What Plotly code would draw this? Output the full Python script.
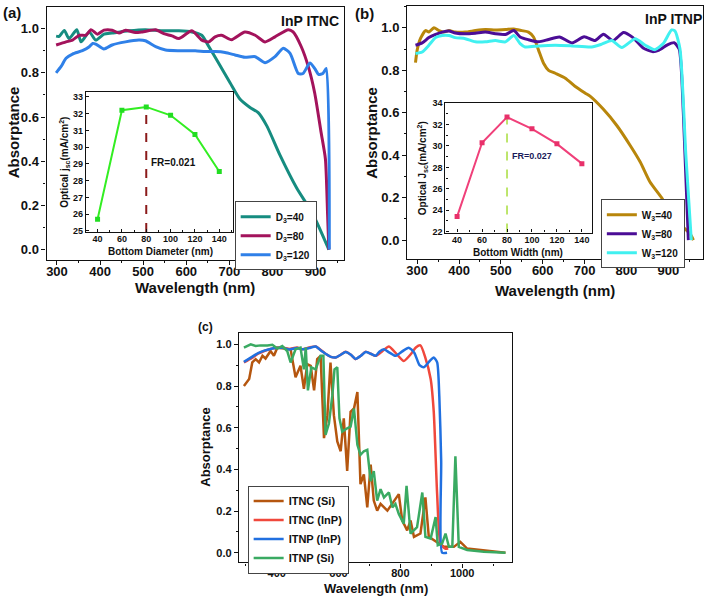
import plotly.graph_objects as go

W, H = 709, 603

# ---------------- Panel (a): InP ITNC ----------------
wl_a_d40 = [298,305,317,328,346,356,375,390,409,428,467,505,544,583,613,636,652,675,702,725,748,767,787,817,856,894,931]
abs_a_d40 = [0.966,0.965,0.992,0.955,0.995,0.94,0.985,0.948,0.975,0.98,0.99,0.995,0.99,0.99,0.985,0.97,0.92,0.844,0.754,0.68,0.643,0.62,0.56,0.43,0.28,0.16,0.0]
wl_a_d80 = [298,321,336,352,367,379,394,409,428,444,459,482,498,529,548,567,583,613,636,652,667,682,705,736,760,783,806,837,848,867,883,898,913,923,928,931]
abs_a_d80 = [0.926,0.94,0.948,0.97,0.97,0.995,0.975,0.993,0.993,0.98,0.993,0.982,0.985,0.995,0.977,0.967,0.955,0.99,0.948,0.94,0.963,0.97,0.95,0.985,0.97,0.94,0.963,0.995,0.985,0.918,0.83,0.71,0.53,0.41,0.16,0.0]
wl_a_d120 = [298,310,321,336,359,375,383,390,409,428,459,490,505,529,552,583,621,644,667,690,713,736,760,783,806,825,841,860,871,887,898,907,917,925,932]
abs_a_d120 = [0.80,0.83,0.866,0.885,0.90,0.918,0.933,0.93,0.908,0.926,0.94,0.948,0.945,0.918,0.903,0.90,0.90,0.896,0.896,0.892,0.881,0.87,0.873,0.846,0.873,0.911,0.888,0.797,0.797,0.844,0.82,0.793,0.797,0.82,0.0]

# inset (a)
bottom_diameter = [40, 60, 80, 100, 120, 140]
jsc_a = [25.7, 32.2, 32.4, 31.9, 30.75, 28.55]

# ---------------- Panel (b): InP ITNP ----------------
wl_b_w40 = [296,300,308,320,328,340,352,364,376,391,415,439,463,487,511,531,550,566,578,590,602,614,630,654,677,701,713,745,777,809,833,856,884,920,952,960]
abs_b_w40 = [0.836,0.895,0.95,0.987,0.98,1.0,0.987,0.98,0.987,0.98,0.98,0.987,0.992,0.99,0.992,0.995,0.987,0.98,0.957,0.895,0.833,0.80,0.786,0.763,0.725,0.693,0.678,0.616,0.54,0.446,0.368,0.275,0.20,0.09,0.03,0.0]
wl_b_w80 = [296,312,328,344,360,376,391,415,439,463,487,511,531,546,566,590,614,640,670,699,725,745,768,793,815,840,862,878,898,914,926,936,948]
abs_b_w80 = [0.918,0.929,0.954,0.969,0.98,0.985,0.976,0.972,0.975,0.98,0.972,0.969,0.987,0.957,0.944,0.934,0.945,0.957,0.929,0.958,0.94,0.97,0.94,0.978,0.955,0.905,0.888,0.895,0.92,0.93,0.9,0.6,0.0]
wl_b_w120 = [296,312,328,344,360,376,391,415,439,463,487,511,531,546,558,590,630,670,717,741,765,789,821,845,868,888,908,916,928,942,955]
abs_b_w120 = [0.879,0.886,0.918,0.954,0.964,0.964,0.954,0.949,0.934,0.934,0.94,0.934,0.964,0.926,0.91,0.915,0.918,0.915,0.91,0.923,0.94,0.907,0.949,0.918,0.897,0.926,0.99,0.985,0.9,0.4,0.0]

# inset (b)
bottom_width = [40, 60, 80, 100, 120, 140]
jsc_b = [23.4, 30.3, 32.7, 31.6, 30.2, 28.35]

# ---------------- Panel (c) ----------------
wl_c_itnc_si = [294,311,321,332,343,354,364,380,391,402,424,445,461,477,488,499,510,521,531,542,553,564,574,585,596,607,617,628,639,650,661,671,682,693,704,714,725,736,758,779,795,806,822,833,844,865,881,892,908,924,941,973,994,1016,1059,1140]
abs_c_itnc_si = [0.80,0.834,0.913,0.929,0.913,0.945,0.932,0.968,0.945,0.984,0.98,0.976,0.842,0.897,0.787,0.905,0.897,0.779,0.929,0.945,0.55,0.66,0.913,0.66,0.534,0.487,0.645,0.392,0.676,0.692,0.771,0.329,0.376,0.218,0.423,0.25,0.202,0.234,0.202,0.25,0.281,0.155,0.107,0.155,0.076,0.092,0.265,0.076,0.06,0.044,0.028,0.028,0.052,0.02,0.013,0.0]
wl_c_itnc_inp = [294,320,340,360,380,400,420,440,466,483,505,526,545,558,575,591,607,623,640,655,672,688,704,720,740,763,790,811,835,850,865,880,898,908,919,930,945,955]
abs_c_itnc_inp = [0.913,0.935,0.955,0.968,0.978,0.984,0.985,0.978,0.985,0.976,0.985,0.99,0.97,0.955,0.94,0.937,0.95,0.965,0.95,0.929,0.945,0.965,0.955,0.945,0.965,0.99,0.95,0.92,0.955,0.985,0.995,0.94,0.834,0.676,0.28,0.044,0.02,0.02]
wl_c_itnp_inp = [294,320,340,360,380,400,420,440,466,483,505,526,545,558,575,591,607,623,640,655,672,688,704,720,732,747,765,784,805,827,845,862,876,895,908,919,926,932,935,951]
abs_c_itnp_inp = [0.916,0.94,0.958,0.97,0.978,0.982,0.983,0.975,0.982,0.976,0.982,0.99,0.968,0.955,0.94,0.937,0.95,0.963,0.95,0.93,0.945,0.963,0.955,0.945,0.965,0.976,0.96,0.945,0.965,0.984,0.96,0.9,0.89,0.92,0.937,0.913,0.75,0.44,0.0,0.0]
wl_c_itnp_si = [294,316,332,348,370,386,402,418,434,445,461,477,488,494,501,512,526,542,551,558,569,580,587,596,603,612,628,639,650,661,671,682,693,704,714,725,736,747,763,774,784,795,811,820,833,854,871,881,898,914,921,935,946,957,968,978,989,1016,1070,1140]
abs_c_itnp_si = [0.984,1.0,0.992,0.995,0.995,0.998,0.98,0.992,0.968,0.913,0.976,0.984,0.88,0.984,0.779,0.89,0.88,0.945,0.945,0.566,0.62,0.755,0.88,0.89,0.645,0.581,0.597,0.605,0.692,0.518,0.47,0.487,0.494,0.344,0.392,0.25,0.305,0.265,0.289,0.218,0.234,0.186,0.139,0.321,0.092,0.123,0.289,0.076,0.068,0.171,0.036,0.044,0.092,0.028,0.028,0.463,0.028,0.013,0.005,0.0]

wl_ticks_ab = [300, 400, 500, 600, 700, 800, 900]
wl_ticks_c = [400, 600, 800, 1000]
abs_ticks = [0.0, 0.2, 0.4, 0.6, 0.8, 1.0]
jsc_ticks_a = [25, 26, 27, 28, 29, 30, 31, 32, 33]
jsc_ticks_b = [22, 24, 26, 28, 30, 32, 34]

FONT = "Liberation Sans, Arial, sans-serif"
INK = "#111111"


def px2x(px):
    return px / W


def py2y(py):
    return 1 - py / H


def b(s):
    return "<b>" + s + "</b>"


fig = go.Figure()


def line(x, y, color, name, xa, ya, legend=None, width=3.0, shape="spline"):
    fig.add_trace(go.Scatter(
        x=x, y=y, mode="lines", name=b(name),
        line=dict(color=color, width=width, shape=shape, smoothing=0.6),
        xaxis=xa, yaxis=ya, legend=legend))

# panel a
line(wl_a_d40, abs_a_d40, "#168c80", "D<sub>3</sub>=40", "x", "y", "legend")
line(wl_a_d80, abs_a_d80, "#a3135c", "D<sub>3</sub>=80", "x", "y", "legend")
line(wl_a_d120, abs_a_d120, "#2f80e8", "D<sub>3</sub>=120", "x", "y", "legend")
# panel b
line(wl_b_w40, abs_b_w40, "#b8860b", "W<sub>3</sub>=40", "x2", "y2", "legend2")
line(wl_b_w80, abs_b_w80, "#4b0d96", "W<sub>3</sub>=80", "x2", "y2", "legend2")
line(wl_b_w120, abs_b_w120, "#40f0f0", "W<sub>3</sub>=120", "x2", "y2", "legend2")
# panel c
line(wl_c_itnc_si, abs_c_itnc_si, "#b5560f", "ITNC (Si)", "x3", "y3", "legend3", width=2.5, shape="linear")
line(wl_c_itnc_inp, abs_c_itnc_inp, "#f0483c", "ITNC (InP)", "x3", "y3", "legend3", width=2.5)
line(wl_c_itnp_inp, abs_c_itnp_inp, "#2170e0", "ITNP (InP)", "x3", "y3", "legend3", width=2.5)
line(wl_c_itnp_si, abs_c_itnp_si, "#3aaa62", "ITNP (Si)", "x3", "y3", "legend3", width=2.5, shape="linear")

# insets
fig.add_trace(go.Scatter(x=[bottom_diameter[2]] * 2, y=[24.94, jsc_a[2]], mode="lines",
                         line=dict(color="#8b1a1a", width=2, dash="dash"),
                         xaxis="x4", yaxis="y4", showlegend=False))
fig.add_trace(go.Scatter(x=bottom_diameter, y=jsc_a, mode="lines+markers",
                         line=dict(color="#33ee22", width=2),
                         marker=dict(symbol="square", size=5, color="#22dd22"),
                         xaxis="x4", yaxis="y4", showlegend=False))
fig.add_trace(go.Scatter(x=[bottom_width[2]] * 2, y=[21.9, jsc_b[2]], mode="lines",
                         line=dict(color="#a8dd3c", width=1.5, dash="dash"),
                         xaxis="x5", yaxis="y5", showlegend=False))
fig.add_trace(go.Scatter(x=bottom_width, y=jsc_b, mode="lines+markers",
                         line=dict(color="#f0407a", width=2),
                         marker=dict(symbol="square", size=5, color="#e8306a"),
                         xaxis="x5", yaxis="y5", showlegend=False))


def ax(domain, rng, tickvals, fmt, size, minor_dtick, anchor, ticklen=4, ticks="outside", standoff=0):
    text = [b(format(v, fmt)) for v in tickvals]
    d = dict(domain=domain, range=rng, tickvals=tickvals, ticktext=text,
             showline=True, linecolor=INK, linewidth=1.3, mirror=True,
             ticks=ticks, ticklen=ticklen, tickwidth=1.2, tickcolor=INK,
             showgrid=False, zeroline=False, anchor=anchor,
             ticklabelstandoff=standoff,
             tickfont=dict(size=size, family=FONT, color=INK))
    if minor_dtick:
        d["minor"] = dict(dtick=minor_dtick, ticks=ticks, ticklen=2, tickwidth=1, tickcolor=INK)
    return d


layout_axes = dict(
    xaxis=ax([px2x(45.7), px2x(343)], [276, 965], wl_ticks_ab, "d", 13, 50, "y", 4, "outside", -4),
    yaxis=ax([py2y(259), py2y(3)], [-0.045, 1.098], abs_ticks, ".1f", 13, 0.1, "x"),
    xaxis2=ax([px2x(406.7), px2x(703)], [276, 983], wl_ticks_ab, "d", 13, 50, "y2", 4, "outside", -4),
    yaxis2=ax([py2y(258), py2y(2)], [-0.087, 1.103], abs_ticks, ".1f", 13, 0.1, "x2"),
    xaxis3=ax([px2x(238.3), px2x(511.7)], [278, 1161], wl_ticks_c, "d", 11, 100, "y3", 4, "outside", -4),
    yaxis3=ax([py2y(566), py2y(333.3)], [-0.047, 1.055], abs_ticks, ".1f", 11, 0.1, "x3"),
    xaxis4=ax([px2x(85), px2x(232)], [30.4, 151], bottom_diameter, "d", 9, 10, "y4", 3, "inside", -2),
    yaxis4=ax([py2y(231), py2y(89)], [24.94, 33.3], jsc_ticks_a, "d", 9, None, "x4", 3, "inside"),
    xaxis5=ax([px2x(445), px2x(591.7)], [30.6, 148], bottom_width, "d", 9, 10, "y5", 3, "inside", -2),
    yaxis5=ax([py2y(231.7), py2y(100)], [21.9, 34.05], jsc_ticks_b, "d", 9, 1, "x5", 3, "inside"),
)


def ann(text, px, py, size, xanchor="center", yanchor="middle", angle=0, color=INK):
    return dict(text=b(text), x=px2x(px), y=py2y(py), xref="paper", yref="paper",
                xanchor=xanchor, yanchor=yanchor, showarrow=False, textangle=angle,
                font=dict(size=size, family=FONT, color=color))


annotations = [
    ann("(a)", 0, 9, 15, "left"),
    ann("(b)", 352, 10, 15, "left"),
    ann("(c)", 195, 327, 12, "left"),
    ann("InP ITNC", 340, 17, 14, "right"),
    ann("InP ITNP", 704, 15, 14, "right"),
    ann("Absorptance", 12, 130, 15, angle=-90),
    ann("Absorptance", 371, 130, 15, angle=-90),
    ann("Absorptance", 204, 449, 13, angle=-90),
    ann("Wavelength (nm)", 194, 287, 15),
    ann("Wavelength (nm)", 555, 290, 15),
    ann("Wavelength (nm)", 376, 592, 13),
    ann("Optical j<sub>sc</sub>(mA/cm<sup>2</sup>)", 64, 160, 10, angle=-90),
    ann("Bottom Diameter (nm)", 160, 250.5, 10),
    ann("Optical J<sub>sc</sub>(mA/cm<sup>2</sup>)", 422, 166, 10, angle=-90),
    ann("Bottom Width (nm)", 518, 251.5, 10),
    dict(text=b("FR=0.021"), x=82.5, y=29.1, xref="x4", yref="y4", xanchor="left", yanchor="middle",
         showarrow=False, font=dict(size=10, family=FONT, color=INK)),
    dict(text=b("FR=0.027"), x=82.5, y=29.1, xref="x5", yref="y5", xanchor="left", yanchor="middle",
         showarrow=False, font=dict(size=9, family=FONT, color="#1a1a5a")),
]


def leg(px, py, size=10):
    return dict(x=px2x(px), y=py2y(py), xanchor="left", yanchor="top", xref="paper", yref="paper",
                bgcolor="white", bordercolor="#444444", borderwidth=1,
                font=dict(size=size, family=FONT, color=INK),
                itemwidth=30, tracegroupgap=0)


fig.update_layout(
    width=W, height=H, margin=dict(l=0, r=0, t=0, b=0),
    paper_bgcolor="white", plot_bgcolor="white",
    font=dict(family=FONT, color=INK),
    annotations=annotations,
    legend=leg(234, 200),
    legend2=leg(600.7, 198),
    legend3=leg(247, 488, 11),
    **layout_axes,
)

fig.write_html("out.html", config={"displayModeBar": False},
               post_script="document.body.style.margin='0px';")
